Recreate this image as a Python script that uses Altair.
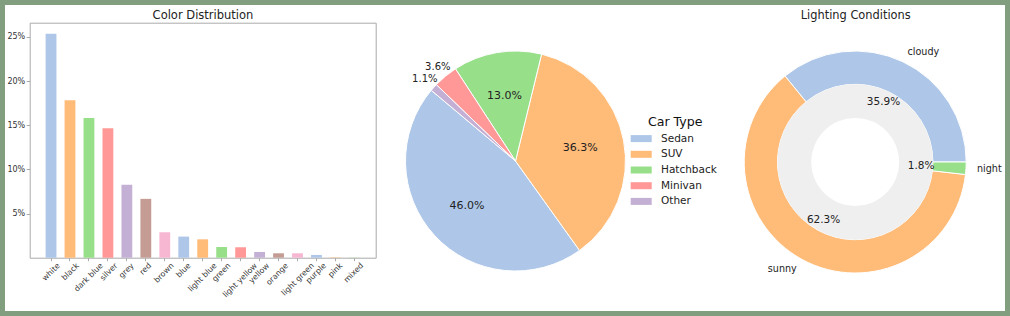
import math
import altair as alt
import pandas as pd

# ---------------- data ----------------
color_names = ["white", "black", "dark blue", "silver", "grey", "red", "brown", "blue",
               "light blue", "green", "light yellow", "yellow", "orange", "light green",
               "purple", "pink", "mixed"]
color_shares = [25.34, 17.81, 15.81, 14.64, 8.25, 6.66, 2.88, 2.39,
                2.08, 1.21, 1.18, 0.65, 0.50, 0.50, 0.31, 0.04, 0.02]
y_tick_values = [5, 10, 15, 20, 25]

car_types = ["Sedan", "SUV", "Hatchback", "Minivan", "Other"]
car_shares = [46.0, 36.3, 13.0, 3.6, 1.1]

light_names = ["cloudy", "sunny", "night"]
light_shares = [35.9, 62.3, 1.8]

palette = ["#aec7e8", "#ffbb78", "#98df8a", "#ff9896", "#c5b0d5", "#c49c94", "#f7b6d2"]
titles = ["Color Distribution", "Lighting Conditions"]

FONT = "DejaVu Sans"
FRAME = "#819f7e"
SPINE = "#aaaaaa"
TXT = "#222222"

bar_df = pd.DataFrame({"name": color_names, "share": color_shares})
bar_colors = [palette[i % len(palette)] for i in range(len(color_names))]
pie_df = pd.DataFrame({"type": car_types, "share": car_shares, "idx": list(range(len(car_types)))})
light_df = pd.DataFrame({"cond": light_names, "share": light_shares, "idx": list(range(len(light_names)))})

# ---------------- bar chart ----------------
x_scale = alt.Scale(range=[24.7, 370.7], paddingInner=0.43, paddingOuter=0.84)
y_scale = alt.Scale(domain=[0, 26.6], range=[252.7, 17.7], nice=False, zero=True)

label_shift = {
    "condition": [
        {"test": "length(datum.label) <= 3", "value": 4.5},
        {"test": "length(datum.label) <= 4", "value": 6.1},
        {"test": "length(datum.label) <= 5", "value": 8},
        {"test": "length(datum.label) <= 6", "value": 8.7},
        {"test": "length(datum.label) <= 10", "value": 13},
    ],
    "value": 15.6,
}

bars = alt.Chart(bar_df).mark_bar().encode(
    x=alt.X("name:N", sort=color_names, scale=x_scale,
            axis=alt.Axis(orient="bottom", offset=-53.3, title=None, labelAngle=-45,
                          labelAlign="right", labelBaseline="middle", labelFontSize=7.8,
                          labelPadding=3.5, labelOffset=label_shift, labelOverlap=False,
                          tickSize=3, tickColor=SPINE, domainColor=SPINE, labelColor="#333333",
                          grid=False)),
    y=alt.Y("share:Q", scale=y_scale,
            axis=alt.Axis(orient="left", offset=-24.7, title=None, values=y_tick_values,
                          labelExpr="datum.value + '%'", labelFontSize=8, labelPadding=1.5,
                          tickSize=3.5, tickColor=SPINE, domainColor=SPINE, labelColor="#333333",
                          grid=False)),
    color=alt.Color("name:N", scale=alt.Scale(domain=color_names, range=bar_colors), legend=None),
)

frame = alt.Chart(bar_df).mark_bar(opacity=0).encode(
    x=alt.X("name:N", sort=color_names, scale=x_scale,
            axis=alt.Axis(orient="top", offset=-17.7, title=None, labels=False, ticks=False,
                          domainColor=SPINE, grid=False)),
    y=alt.Y("share:Q", scale=y_scale,
            axis=alt.Axis(orient="right", offset=-629.3, title=None, labels=False, ticks=False,
                          domainColor=SPINE, grid=False)),
)

title_df = pd.DataFrame({"t": titles})
bar_title = alt.Chart(title_df).transform_filter(alt.datum.t == titles[0]).mark_text(
    fontSize=11.5, color=TXT, baseline="middle", align="center").encode(
    text="t:N", x=alt.value(198), y=alt.value(11))

# ---------------- pie ----------------
PIE_X, PIE_Y, PIE_R = 510.5, 156, 110
pie_start = math.radians(90 - 140)
pie_theta = alt.Theta("share:Q", stack=True,
                      scale=alt.Scale(range=[pie_start, pie_start + 2 * math.pi]))
pie_order = alt.Order("idx:Q", sort="descending")

pie = alt.Chart(pie_df).mark_arc(radius=PIE_R, stroke="white", strokeWidth=1).encode(
    theta=pie_theta, order=pie_order,
    color=alt.Color("type:N", scale=alt.Scale(domain=car_types, range=palette[:5]),
                    legend=alt.Legend(title="Car Type", orient="none", legendX=629.2, legendY=111,
                                      titleFontSize=12.6, titleFontWeight="normal", titleColor="#111111",
                                      titleAnchor="middle", titlePadding=3,
                                      labelFontSize=10.5, labelColor=TXT, labelOffset=12.8,
                                      symbolType="M-1.5,-0.5H1.5V0.5H-1.5Z", symbolSize=196,
                                      symbolStrokeWidth=0, rowPadding=2.7, padding=0)),
    x=alt.value(PIE_X), y=alt.value(PIE_Y),
)

pie_in = alt.Chart(pie_df).transform_calculate(
    lbl="datum.share >= 5 ? format(datum.share, '.1f') + '%' : ''"
).mark_text(radius=66, fontSize=11, color=TXT).encode(
    theta=pie_theta, order=pie_order, text="lbl:N", x=alt.value(PIE_X), y=alt.value(PIE_Y))

pie_out = alt.Chart(pie_df).transform_calculate(
    lbl="datum.share < 5 ? format(datum.share, '.1f') + '%' : ''"
).mark_text(radius=122, fontSize=10, color=TXT).encode(
    theta=pie_theta, order=pie_order, text="lbl:N", x=alt.value(PIE_X), y=alt.value(PIE_Y))

# ---------------- donut ----------------
DN_X, DN_Y, DN_R, DN_R2, DN_HOLE = 850.2, 157, 111, 77.7, 44
dn_start = math.radians(90 - 0)
dn_theta = alt.Theta("share:Q", stack=True,
                     scale=alt.Scale(range=[dn_start, dn_start + 2 * math.pi]))
dn_order = alt.Order("idx:Q", sort="descending")

ring = alt.Chart(light_df).mark_arc(radius=DN_R, radius2=DN_R2, stroke="white", strokeWidth=1).encode(
    theta=dn_theta, order=dn_order,
    color=alt.Color("cond:N", scale=alt.Scale(domain=light_names, range=palette[:3]), legend=None),
    x=alt.value(DN_X), y=alt.value(DN_Y),
)

disk = alt.Chart(title_df).transform_filter(alt.datum.t == titles[1]).mark_arc(
    radius=DN_R2, radius2=DN_HOLE, theta=0, theta2=2 * math.pi, fill="#efefef").encode(
    x=alt.value(DN_X), y=alt.value(DN_Y))

dn_base = alt.Chart(light_df).transform_window(
    cum="sum(share)", sort=[alt.SortField("idx", order="descending")]
).transform_joinaggregate(total="sum(share)").transform_calculate(
    ang=f"{dn_start} + 2 * PI * (datum.cum - datum.share / 2) / datum.total"
).transform_calculate(
    lbl_r="sin(datum.ang) >= 0 ? datum.cond : ''",
    lbl_l="sin(datum.ang) < 0 ? datum.cond : ''",
    pct="format(datum.share, '.1f') + '%'",
)

dn_pct = dn_base.mark_text(radius=66, fontSize=10.5, color=TXT).encode(
    theta=dn_theta, order=dn_order, text="pct:N", x=alt.value(DN_X), y=alt.value(DN_Y))
dn_lab_r = dn_base.mark_text(radius=122, fontSize=9.6, color=TXT, align="left").encode(
    theta=dn_theta, order=dn_order, text="lbl_r:N", x=alt.value(DN_X), y=alt.value(DN_Y))
dn_lab_l = dn_base.mark_text(radius=122, fontSize=9.6, color=TXT, align="right").encode(
    theta=dn_theta, order=dn_order, text="lbl_l:N", x=alt.value(DN_X), y=alt.value(DN_Y))

dn_title = alt.Chart(title_df).transform_filter(alt.datum.t == titles[1]).mark_text(
    fontSize=11.4, color=TXT, baseline="middle", align="center").encode(
    text="t:N", x=alt.value(850.7), y=alt.value(11))

chart = alt.layer(
    bars, frame, bar_title,
    pie, pie_in, pie_out,
    ring, disk, dn_pct, dn_lab_r, dn_lab_l, dn_title,
).resolve_scale(
    theta="independent", color="independent"
).resolve_axis(
    x="independent", y="independent"
).properties(
    width=1000, height=306, padding=5,
    autosize=alt.AutoSizeParams(type="none"),
    background=FRAME,
).configure(
    font=FONT
).configure_view(
    fill="white", strokeWidth=0
)

chart.save("out.html", embed_options={"renderer": "svg", "actions": False})
